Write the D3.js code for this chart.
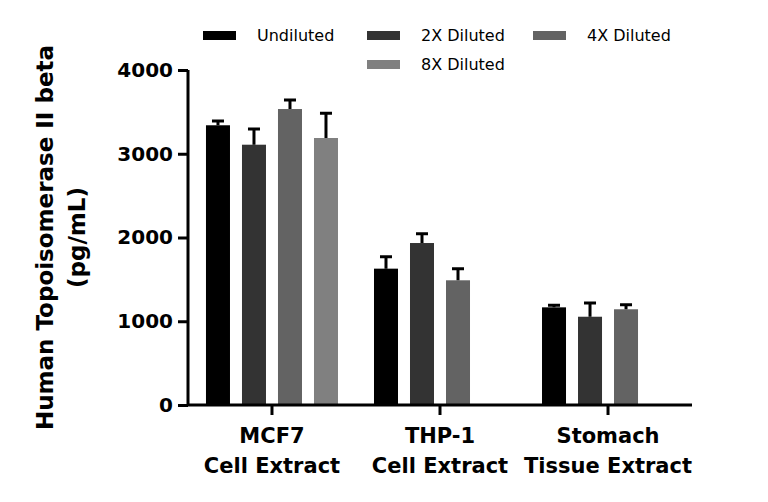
<!DOCTYPE html>
<html>
<head>
<meta charset="utf-8">
<script src="https://cdn.jsdelivr.net/npm/d3@7"></script>
<style>
  body { margin: 0; background: #fff; }
  text { font-family: "DejaVu Sans", sans-serif; }
</style>
</head>
<body>
<svg id="chart" width="768" height="502"></svg>
<script>
// data
categories = [["MCF7", "Cell Extract"], ["THP-1", "Cell Extract"], ["Stomach", "Tissue Extract"]]
seriesNames = ["Undiluted", "2X Diluted", "4X Diluted", "8X Diluted"]
undiluted = [3340, 1628, 1166]
undilutedErr = [50, 143, 24]
diluted2x = [3108, 1934, 1054]
diluted2xErr = [187, 112, 164]
diluted4x = [3534, 1489, 1143]
diluted4xErr = [108, 139, 55]
diluted8x = [3188, null, null]
diluted8xErr = [295, null, null]
yTicks = [0, 1000, 2000, 3000, 4000]

colors = ["#000000", "#333333", "#636363", "#808080"]
seriesVals = [undiluted, diluted2x, diluted4x, diluted8x]
seriesErrs = [undilutedErr, diluted2xErr, diluted4xErr, diluted8xErr]

svg = d3.select("#chart")
margin = {top: 70, right: 76, bottom: 97, left: 188}
width = +svg.attr("width")
height = +svg.attr("height")

x0 = d3.scaleBand()
  .domain(d3.range(categories.length))
  .range([margin.left, width - margin.right])
  .paddingInner(0.2143)
  .paddingOuter(0.107)

x1 = d3.scaleBand()
  .domain(d3.range(seriesNames.length))
  .range([0, x0.bandwidth()])
  .paddingInner(1 / 3)
  .paddingOuter(0)

y = d3.scaleLinear()
  .domain([0, 4000])
  .range([height - margin.bottom, margin.top])

// flatten into bar records
bars = []
seriesVals.forEach((vals, s) => {
  vals.forEach((v, c) => {
    if (v != null) bars.push({s: s, c: c, v: v, e: seriesErrs[s][c]})
  })
})

const g = svg.append("g")
  .selectAll("g")
  .data(bars)
  .enter().append("g")

g.append("rect")
  .attr("x", d => x0(d.c) + x1(d.s))
  .attr("y", d => y(d.v))
  .attr("width", x1.bandwidth())
  .attr("height", d => y(0) - y(d.v))
  .attr("fill", d => colors[d.s])

// upper error bars only
g.append("path")
  .attr("fill", "none")
  .attr("stroke", "#000")
  .attr("stroke-width", 3)
  .attr("d", d => {
    const cx = x0(d.c) + x1(d.s) + x1.bandwidth() / 2
    return `M${cx},${y(d.v)} V${y(d.v + d.e)} M${cx - 6},${y(d.v + d.e)} H${cx + 6}`
  })

// y-axis
yAxis = svg.append("g")
  .attr("transform", `translate(${margin.left}, 0)`)
  .call(d3.axisLeft(y).tickValues(yTicks).tickFormat(d3.format("d")).tickSize(10).tickPadding(5))
yAxis.selectAll("path, line").attr("stroke", "#000").attr("stroke-width", 3)
yAxis.select(".domain").attr("d", `M0,${y(4000)}V${y(0)}`)
yAxis.selectAll("text")
  .attr("font-family", "DejaVu Sans")
  .attr("font-weight", "bold")
  .attr("font-size", 20)
  .attr("fill", "#000")

// x-axis
xAxis = svg.append("g")
  .attr("transform", `translate(0, ${y(0)})`)
  .call(d3.axisBottom(x0).tickSize(10).tickFormat(""))
xAxis.selectAll("path, line").attr("stroke", "#000").attr("stroke-width", 3)
xAxis.select(".domain").attr("d", `M${margin.left},0H${width - margin.right}`)
xAxis.selectAll(".tick text").remove()

xAxis.selectAll(".tick").each(function (d) {
  const t = d3.select(this).append("text")
    .attr("fill", "#000")
    .attr("font-family", "DejaVu Sans")
    .attr("font-weight", "bold")
    .attr("font-size", 21)
    .attr("text-anchor", "middle")
  t.append("tspan").attr("x", 0).attr("y", 38).text(categories[d][0])
  t.append("tspan").attr("x", 0).attr("y", 68).text(categories[d][1])
})

// y-axis title
yTitle = svg.append("text")
  .attr("transform", `translate(53, ${(y(0) + y(4000)) / 2}) rotate(-90)`)
  .attr("text-anchor", "middle")
  .attr("font-weight", "bold")
  .attr("font-size", 23)
  .attr("fill", "#000")
yTitle.append("tspan").attr("x", 0).attr("y", 0).text("Human Topoisomerase II beta")
yTitle.append("tspan").attr("x", 0).attr("y", 32).text("(pg/mL)")

// legend
legendPos = [[203, 35], [367, 35], [533, 35], [367, 64]]
legend = svg.append("g")
  .selectAll("g")
  .data(seriesNames)
  .enter().append("g")
  .attr("transform", (d, i) => `translate(${legendPos[i][0]}, ${legendPos[i][1]})`)
legend.append("rect")
  .attr("x", 0).attr("y", -4)
  .attr("width", 33).attr("height", 9)
  .attr("fill", (d, i) => colors[i])
legend.append("text")
  .attr("x", 54).attr("y", 6)
  .attr("font-size", 16)
  .attr("fill", "#000")
  .text(d => d)
</script>
</body>
</html>
